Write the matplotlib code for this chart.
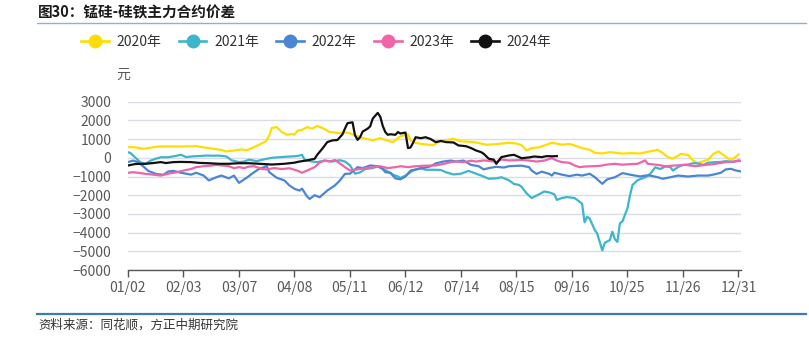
import matplotlib
matplotlib.use("Agg")
import matplotlib.pyplot as plt
from matplotlib.lines import Line2D

plt.rcParams['font.family'] = ['Noto Sans CJK SC', 'DejaVu Sans']
plt.rcParams['axes.unicode_minus'] = True

# Trading-day index along the year; tick labels every 22 trading days
tick_pos = [0, 22, 44, 66, 88, 110, 132, 154, 176, 198, 220, 242]
tick_labels = ["01/02", "02/03", "03/07", "04/08", "05/11", "06/12",
               "07/14", "08/15", "09/16", "10/25", "11/26", "12/31"]

y2020_x = [0, 3, 6, 9, 12, 16, 20, 24, 27, 30, 34, 37, 39, 42, 45, 47, 50, 52, 54, 55,
           56, 57, 59, 61, 63, 65, 66, 67, 69, 71, 73, 75, 77, 80, 82, 84, 87, 89, 92, 95,
           97, 100, 102, 105, 108, 111, 112, 114, 116, 119, 121, 124, 126, 129, 132, 135,
           138, 140, 142, 145, 148, 151, 154, 156, 158, 160, 163, 165, 168, 170, 172, 175,
           177, 180, 183, 185, 188, 191, 194, 196, 199, 203, 206, 209, 210, 212, 214, 216,
           218, 219, 222, 224, 226, 227, 230, 232, 234, 236, 238, 240, 242]
y2020_y = [570, 560, 480, 540, 600, 610, 600, 610, 620, 560, 480, 420, 340, 390, 450, 400,
           570, 700, 840, 930, 1200, 1600, 1640, 1375, 1230, 1280, 1230, 1430, 1500, 1640,
           1560, 1700, 1600, 1375, 1350, 1320, 1350, 1250, 1100, 1000, 930, 1050, 950, 840,
           1150, 1250, 930, 800, 750, 700, 680, 900, 930, 1020, 880, 860, 820, 760, 700, 720,
           760, 800, 760, 680, 390, 520, 560, 660, 800, 760, 700, 740, 660, 520, 430, 270,
           230, 300, 260, 220, 250, 230, 320, 400, 430, 250, 40, -50, 100, 210, 150, -140,
           -300, -230, -100, 200, 340, 150, -50, -50, 180]

y2021_x = [0, 1, 3, 5, 7, 9, 11, 13, 16, 19, 21, 23, 26, 29, 31, 34, 36, 39, 41, 44, 46,
           48, 51, 54, 57, 60, 63, 66, 68, 69, 70, 72, 75, 78, 81, 84, 86, 88, 90, 92, 94,
           97, 99, 102, 105, 107, 108, 110, 113, 116, 118, 121, 124, 126, 129, 132, 135,
           138, 140, 143, 146, 148, 151, 153, 155, 156, 158, 160, 163, 165, 167, 169, 170,
           172, 174, 177, 179, 180, 181, 182, 183, 185, 186, 187, 188, 189, 191, 192, 193,
           194, 195, 196, 198, 199, 200, 202, 205, 207, 209, 211, 213, 215, 216, 218, 220,
           222, 224, 226, 228, 230, 233, 235, 237, 240, 242]
y2021_y = [300, 250, 0, -250, -320, -150, -50, 30, 30, 100, 160, 40, 80, 100, 120, 110,
           120, 70, -130, -230, -200, -100, -180, -80, 0, 30, 60, 80, 120, 160, -100, -180,
           -230, -150, -200, -130, -200, -400, -850, -780, -600, -550, -450, -650, -900,
           -1000, -1080, -950, -680, -540, -640, -640, -650, -770, -890, -850, -700, -850,
           -950, -1120, -1100, -1040, -1200, -1400, -1450, -1550, -1900, -2150, -1950, -1800,
           -1850, -1950, -2250, -2150, -2100, -2150, -2350, -2450, -3450, -3150, -3250, -3850,
           -4050, -4500, -4950, -4550, -4400, -3950, -4350, -4500, -3500, -3400, -2700, -2000,
           -1450, -1200, -1040, -860, -510, -600, -460, -500, -680, -500, -380, -360, -290,
           -300, -380, -260, -230, -220, -180, -220, -140]

y2022_x = [0, 2, 4, 6, 8, 11, 14, 16, 18, 21, 23, 25, 27, 30, 32, 35, 37, 40, 42, 44, 47,
           50, 52, 55, 56, 59, 62, 64, 66, 68, 69, 71, 72, 74, 76, 79, 82, 84, 86, 88, 91,
           93, 96, 99, 101, 102, 104, 106, 108, 110, 112, 115, 117, 120, 122, 125, 128, 130,
           133, 136, 139, 141, 143, 146, 149, 151, 154, 156, 159, 160, 162, 164, 167, 168,
           169, 172, 175, 178, 180, 183, 185, 188, 190, 193, 196, 199, 201, 203, 205, 207,
           210, 212, 215, 218, 222, 226, 230, 232, 235, 237, 239, 241, 243]
y2022_y = [-230, -150, -230, -450, -700, -860, -910, -730, -700, -800, -850, -900, -800,
           -950, -1210, -1040, -950, -1100, -950, -1340, -1070, -770, -590, -450, -770, -1070,
           -1210, -1480, -1660, -1750, -1650, -2070, -2200, -2000, -2110, -1750, -1480, -1210,
           -860, -850, -500, -550, -410, -450, -600, -770, -800, -1100, -1150, -1000, -680,
           -600, -550, -450, -300, -200, -150, -200, -150, -380, -450, -620, -550, -480, -520,
           -450, -430, -420, -500, -680, -860, -740, -860, -950, -800, -900, -980, -900, -950,
           -850, -1030, -1390, -1150, -1040, -820, -900, -950, -1000, -950, -950, -1040, -1120,
           -1040, -950, -1000, -950, -950, -900, -800, -620, -590, -680, -730]

y2023_x = [0, 2, 4, 7, 10, 13, 15, 17, 19, 22, 25, 27, 30, 33, 35, 38, 40, 42, 44, 46, 48,
           50, 53, 55, 58, 61, 64, 67, 69, 71, 74, 76, 78, 80, 82, 84, 86, 88, 91, 94, 97,
           100, 103, 106, 108, 111, 114, 118, 122, 125, 128, 130, 133, 136, 138, 141, 144,
           146, 148, 151, 154, 156, 159, 162, 165, 168, 170, 172, 175, 177, 179, 181, 184,
           187, 190, 193, 196, 199, 202, 205, 206, 210, 213, 217, 221, 225, 229, 233, 237,
           240, 243]
y2023_y = [-800, -770, -800, -860, -900, -950, -880, -820, -780, -680, -600, -500, -450,
           -420, -380, -420, -450, -550, -500, -550, -470, -450, -600, -620, -550, -600, -560,
           -680, -800, -680, -500, -250, -150, -200, -120, -300, -500, -680, -620, -550, -500,
           -450, -550, -500, -450, -500, -450, -420, -410, -330, -230, -200, -230, -160, -200,
           -140, -180, -230, -90, -140, -130, -110, -150, -200, -150, -20, -150, -230, -270,
           -410, -500, -470, -450, -430, -360, -320, -370, -340, -320, -140, -320, -380, -450,
           -410, -380, -450, -380, -320, -230, -200, -160]

y2024_x = [0, 3, 7, 10, 13, 15, 18, 21, 25, 28, 32, 36, 40, 44, 48, 52, 57, 62, 66, 68,
           71, 74, 75, 77, 79, 81, 83, 85, 86, 87, 89, 90, 91, 92, 93, 95, 96, 97, 98, 99,
           100, 101, 102, 103, 104, 106, 107, 108, 110, 111, 112, 113, 114, 116, 118, 120,
           122, 124, 126, 129, 131, 134, 136, 138, 140, 141, 143, 145, 146, 148, 151, 153,
           156, 159, 161, 164, 166, 168, 170]
y2024_y = [-410, -330, -320, -280, -230, -280, -230, -220, -230, -270, -290, -320, -320,
           -290, -290, -320, -360, -320, -260, -200, -140, -50, 160, 480, 840, 930, 950, 1250,
           1560, 1850, 1900, 1200, 960, 1100, 1400, 1560, 1680, 2090, 2250, 2400, 2200, 1700,
           1375, 1230, 1260, 1230, 1375, 1300, 1350, 520, 550, 800, 1100, 1050, 1100, 1000,
           840, 900, 840, 820, 660, 620, 520, 390, 300, 215, -50, -100, -320, 36, 125, 160,
           -20, 20, 70, 36, 90, 80, 90]

series = [
    ("2020年", y2020_x, y2020_y, "#FFDD00"),
    ("2021年", y2021_x, y2021_y, "#3DB5CC"),
    ("2022年", y2022_x, y2022_y, "#4A86D4"),
    ("2023年", y2023_x, y2023_y, "#F064A8"),
    ("2024年", y2024_x, y2024_y, "#111111"),
]

W, H = 809, 337
fig = plt.figure(figsize=(W / 100, H / 100), dpi=100)
ax = fig.add_axes([128 / W, 1 - 270 / H, 613 / W, (270 - 101.7) / H])

for name, xs, ys, color in series:
    ax.plot(xs, ys, color=color, lw=1.6, solid_joinstyle="round")

ax.set_xlim(0, 243)
ax.set_ylim(-6000, 3000)
ax.set_yticks(range(-6000, 3001, 1000))
ax.set_xticks(tick_pos)
ax.set_xticklabels(tick_labels)
ax.yaxis.grid(True, color="#D9DDE8", lw=1.0)
ax.set_axisbelow(True)
for s in ("left", "right", "top"):
    ax.spines[s].set_visible(False)
ax.spines["bottom"].set_color("#555555")
ax.spines["bottom"].set_linewidth(1.0)
ax.tick_params(axis="y", length=0, pad=12, labelsize=10, labelcolor="#595959")
ax.tick_params(axis="x", length=5, width=1, color="#555555", pad=3,
               labelsize=10, labelcolor="#595959")

# unit label above the value axis
fig.text(123 / W, 1 - 75 / H, "元", fontsize=10, color="#595959",
         ha="center", va="center")

# title and rule beneath it
fig.text(38 / W, 1 - 12 / H, "图30：锰硅-硅铁主力合约价差", fontsize=10.5,
         fontweight="bold", color="#1A1A1A", ha="left", va="center")
fig.add_artist(Line2D([37 / W, 806 / W], [1 - 22.5 / H] * 2, color="#8FB0CF",
                      lw=1.0, transform=fig.transFigure))

# legend
handles = [Line2D([], [], color=c, lw=1.9, marker="o", markersize=9,
                  markerfacecolor=c, markeredgecolor=c) for _, _, _, c in series]
labels = [s[0] for s in series]
fig.legend(handles, labels, loc="center left", bbox_to_anchor=(81 / W, 1 - 42 / H),
           ncol=5, frameon=False, fontsize=10, handlelength=2.0, handletextpad=0.55,
           columnspacing=1.25, labelcolor="#333333", borderaxespad=0, borderpad=0)

# source note
fig.add_artist(Line2D([37 / W, 806 / W], [1 - 314 / H] * 2, color="#3D7AB0",
                      lw=1.6, transform=fig.transFigure))
fig.text(38 / W, 1 - 325 / H, "资料来源：同花顺，方正中期研究院", fontsize=9,
         color="#333333", ha="left", va="center")

fig.savefig("out.png", dpi=100)
